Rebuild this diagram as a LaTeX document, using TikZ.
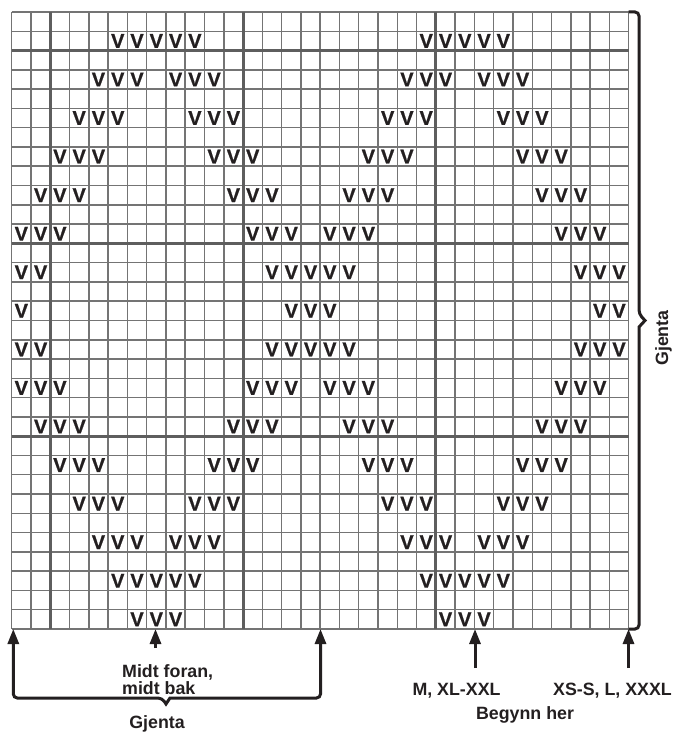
\documentclass[tikz,border=0pt]{standalone}
\usepackage{fontspec}
\setmainfont{Liberation Sans}
\newfontfamily\vfont[BoldFeatures={FakeBold=0.8}]{Liberation Sans}
\usetikzlibrary{arrows.meta}
\definecolor{gthin}{HTML}{747474}
\definecolor{gthick}{HTML}{5E5E5E}
\definecolor{ink}{HTML}{231F20}
\begin{document}
\begin{tikzpicture}[x=1pt,y=-1pt,
  thinline/.style={draw=gthin, line width=1.5pt},
  thickline/.style={draw=gthick, line width=3pt},
  vmark/.style={inner sep=0pt, text=ink, font=\vfont\bfseries\fontsize{20}{20}\selectfont},
  bracket/.style={draw=ink, line width=3pt, rounded corners=4pt},
  tipA/.tip={Triangle[length=15pt,width=11pt]},
  uparrow/.style={draw=ink, line width=3pt, -tipA},
  lab/.style={inner sep=0pt, text=ink, font=\bfseries\fontsize{17.8}{17.8}\selectfont}
]
\useasboundingbox (0,0) rectangle (679,735);
\def\X{11.7}\def\Y{12}\def\C{19.28}
% grid
\foreach \i in {0,...,32}{
  \draw[thinline] ({\X+\i*\C},\Y) -- ({\X+\i*\C},{\Y+32*\C});
  \draw[thinline] (\X,{\Y+\i*\C}) -- ({\X+32*\C},{\Y+\i*\C});
}
\foreach \i in {2,12,22}{
  \draw[thickline] ({\X+\i*\C},\Y) -- ({\X+\i*\C},{\Y+32*\C});
  \draw[thickline] (\X,{\Y+\i*\C}) -- ({\X+32*\C},{\Y+\i*\C});
}
% V marks
\foreach \r/\cols in {1/{5,6,7,8,9},3/{4,5,6,8,9,10},5/{3,4,5,9,10,11},7/{2,3,4,10,11,12},
  9/{1,2,3,11,12,13},11/{0,1,2,12,13,14},13/{13,14,15,0,1},15/{14,15,0},17/{13,14,15,0,1},
  19/{0,1,2,12,13,14},21/{1,2,3,11,12,13},23/{2,3,4,10,11,12},25/{3,4,5,9,10,11},
  27/{4,5,6,8,9,10},29/{5,6,7,8,9},31/{6,7,8}}{
  \foreach \c in \cols{
    \foreach \k in {0,16}{
      \pgfmathtruncatemacro\cc{\c+\k}
      \node[vmark] (v-\r-\cc) at ({\X+(\cc+0.5)*\C},{\Y+(\r+0.5)*\C}) {V};
    }
  }
}
% coordinates
\coordinate (rbtop) at (628.7,12);
\coordinate (rbbot) at (628.7,629);
\coordinate (bltip) at (13.3,629);
\coordinate (brtip) at (320.5,629);
\coordinate (a1s) at (155.5,648);
\coordinate (a1e) at (155.5,629);
\coordinate (a2s) at (475,668);
\coordinate (a2e) at (475,629);
\coordinate (a3s) at (628.5,668);
\coordinate (a3e) at (628.5,629);
% right brace
\draw[bracket] (rbtop) -- (639,12) -- (639,314) [sharp corners] -- (645,320.5) -- (639,327) [rounded corners=4pt] -- (639,629) -- (rbbot);
% bottom brace with arrows
\draw[bracket, tipA-tipA] (bltip) -- (13.3,698) -- (162,698) [sharp corners] -- (166,704) -- (170,698) [rounded corners=4pt] -- (320.5,698) -- (brtip);
% arrows
\draw[uparrow] (a1s) -- (a1e);
\draw[uparrow] (a2s) -- (a2e);
\draw[uparrow] (a3s) -- (a3e);
% labels
\node[lab, anchor=base west] (midt1) at (122,677) {Midt foran,};
\node[lab, anchor=base west] (midt2) at (122,694) {midt bak};
\node[lab, anchor=base] (gj1) at (157,728) {Gjenta};
\node[lab, anchor=base] (size1) at (456.5,695) {M, XL-XXL};
\node[lab, anchor=base] (size2) at (612.5,695) {XS-S, L, XXXL};
\node[lab, anchor=base] (beg) at (525,719) {Begynn her};
\node[lab, anchor=base, rotate=90] (gj2) at (668,338) {Gjenta};
\end{tikzpicture}
\end{document}
